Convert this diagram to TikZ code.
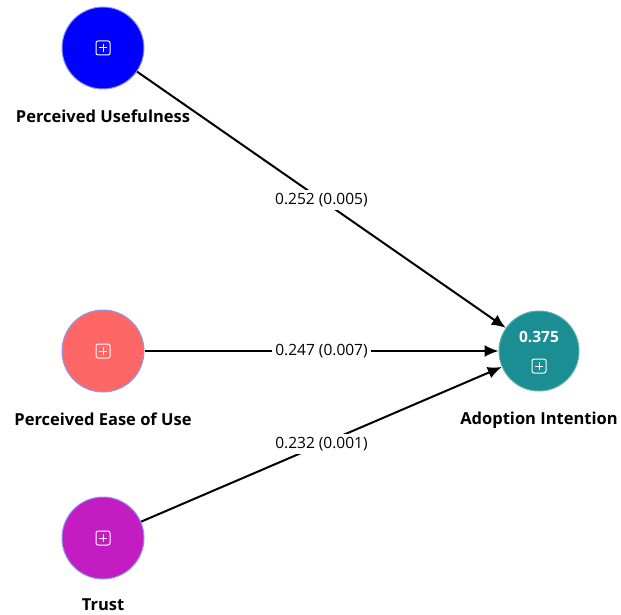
\documentclass[tikz,border=0pt]{standalone}
\usepackage{fontspec}
\setmainfont{Open Sans}
\usetikzlibrary{arrows.meta,positioning,calc}
\definecolor{puBlue}{HTML}{0000FF}
\definecolor{peouRed}{HTML}{FF6666}
\definecolor{trustPurple}{HTML}{C21CC2}
\definecolor{aiTeal}{HTML}{1A8E93}
\definecolor{rim}{HTML}{8A98F2}

\begin{document}
\begin{tikzpicture}[
  x=1pt, y=-1pt,
  >={Latex[length=14pt,width=12pt]},
  node distance=19pt,
  construct/.style={circle, draw=rim, line width=1pt, minimum size=82pt, inner sep=0pt},
  caption/.style={font=\fontsize{16.5}{19}\selectfont\bfseries, inner sep=1pt},
  weight/.style={font=\fontsize{15.5}{18}\selectfont, fill=white, inner sep=3pt},
  path/.style={->, line width=2pt, draw=black},
  expander/.pic={
    \draw[white, line width=1pt, rounded corners=2pt] (-7,-7) rectangle (7,7);
    \draw[white, line width=1pt] (-4,0) -- (4,0) (0,-4) -- (0,4);
  }
]
  \useasboundingbox (0,0) rectangle (621,615);

  \node[construct, fill=puBlue] (pu) at (103,48) {};
  \node[construct, fill=peouRed] (peou) at (103,351) {};
  \node[construct, fill=trustPurple] (trust) at (103,538) {};
  \node[construct, fill=aiTeal, draw=aiTeal!70!white, minimum size=80pt] (ai) at (539,351) {};

  \pic at (pu) {expander};
  \pic at (peou) {expander};
  \pic at (trust) {expander};
  \pic at ($(ai)+(0,15)$) {expander};
  \node[text=white, font=\fontsize{15.5}{18}\selectfont\bfseries] (r2) at (539,337) {0.375};

  \node[caption, below=of pu] (pulabel) {Perceived Usefulness};
  \node[caption, below=of peou] (peoulabel) {Perceived Ease of Use};
  \node[caption, below=18pt of trust] (trustlabel) {Trust};
  \node[caption, below=of ai] (ailabel) {Adoption Intention};

  \draw[path] (pu) -- node[weight] {0.252 (0.005)} (ai);
  \draw[path] (peou) -- node[weight] {0.247 (0.007)} (ai);
  \draw[path] (trust) -- node[weight] {0.232 (0.001)} (ai);
\end{tikzpicture}
\end{document}
